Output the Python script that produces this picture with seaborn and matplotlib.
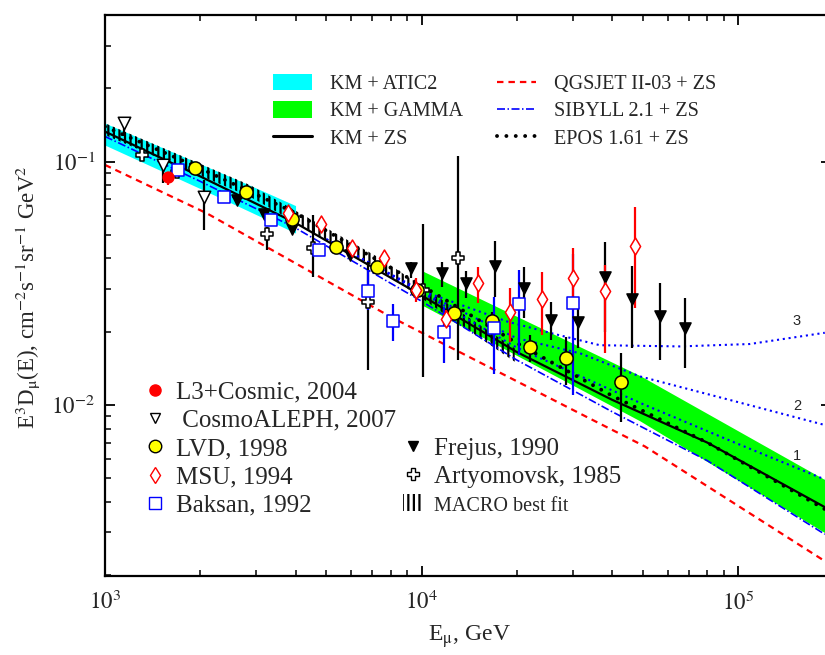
import numpy as np
import matplotlib
matplotlib.use('Agg')
import matplotlib.pyplot as plt
import seaborn as sns
from matplotlib.lines import Line2D
from matplotlib.patches import Patch
from matplotlib.ticker import LogLocator, FixedLocator, NullFormatter, FuncFormatter

# ---------------- theory curves ----------------
km_zs_x = [1000, 2000, 4000, 10000, 20000, 40000, 80000, 188000]
km_zs_y = [0.133, 0.087, 0.056, 0.0282, 0.0165, 0.0105, 0.0070, 0.0038]

qgs_x = [1000, 2100, 7950, 34800, 50800, 188000]
qgs_y = [0.097, 0.0613, 0.0231, 0.00866, 0.00675, 0.00228]

sib_x = [1000, 2000, 4000, 10000, 20000, 40000, 80000, 188000]
sib_y = [0.127, 0.083, 0.0534, 0.0267, 0.0153, 0.00938, 0.0059, 0.00294]

epos_x = [1000, 2000, 4000, 10000, 20000, 40000, 80000, 188000]
epos_y = [0.1394, 0.0939, 0.0615, 0.0310, 0.01797, 0.01091, 0.0070, 0.00373]

prompt1_x = [5000, 10000, 20000, 49000, 96400, 188000]
prompt1_y = [0.048, 0.0290, 0.0172, 0.0102, 0.00705, 0.00494]
prompt2_x = [5000, 10000, 20000, 31700, 49000, 96400, 188000]
prompt2_y = [0.048, 0.0292, 0.0188, 0.0163, 0.0131, 0.0104, 0.00827]
prompt3_x = [5000, 10000, 18700, 25800, 36600, 65600, 109000, 188000]
prompt3_y = [0.048, 0.0295, 0.0220, 0.0197, 0.0176, 0.0174, 0.0178, 0.0198]

atic_x = [1000, 2000, 2870, 4000]
atic_hi = [0.144, 0.098, 0.080, 0.066]
atic_lo = [0.117, 0.0775, 0.0623, 0.0509]

gamma_x = [10000, 49000, 196700]
gamma_hi = [0.0357, 0.0132, 0.00477]
gamma_lo = [0.0258, 0.0086, 0.00288]

macro_x = [1000, 2870, 7390, 19700]
macro_hi = [0.144, 0.0802, 0.0401, 0.0171]
macro_lo = [0.1287, 0.0718, 0.0359, 0.01505]

# ---------------- experimental data ----------------
l3_x = [1585]
l3_y = [0.0868]
l3_lo = [0.0802]
l3_hi = [0.0910]

aleph_x = [1148, 1528, 2055]
aleph_y = [0.144, 0.0969, 0.0714]
aleph_lo = [0.127, 0.0815, 0.0524]
aleph_hi = [0.153, 0.1016, 0.0841]

lvd_x = [1924, 2789, 3907, 5370, 7218, 9656, 12695, 16740, 22020, 28620, 42690]
lvd_y = [0.0940, 0.0748, 0.0581, 0.0447, 0.0370, 0.0297, 0.02395, 0.0222, 0.01727, 0.0156, 0.0124]
lvd_lo = [0.090, 0.071, 0.0555, 0.0425, 0.0352, 0.0282, 0.0228, 0.0198, 0.01507, 0.01208, 0.00854]
lvd_hi = [0.098, 0.078, 0.0610, 0.0470, 0.0390, 0.0313, 0.0252, 0.0241, 0.0194, 0.0191, 0.0163]

msu_x = [3794, 4803, 6019, 7612, 9607, 11950, 15120, 19030, 23980, 30170, 38080, 47270]
msu_y = [0.0614, 0.0554, 0.0441, 0.0401, 0.0297, 0.0225, 0.0316, 0.0241, 0.0273, 0.0333, 0.0295, 0.0452]
msu_lo = [0.0600, 0.0540, 0.0430, 0.0390, 0.0265, 0.0191, 0.0262, 0.0182, 0.0194, 0.0246, 0.0163, 0.0250]
msu_hi = [0.0630, 0.0568, 0.0452, 0.0412, 0.0333, 0.0246, 0.0370, 0.0302, 0.0353, 0.0441, 0.0376, 0.0653]

baksan_x = [1704, 2382, 3338, 4734, 6790, 8144, 11780, 16950, 20370, 30040]
baksan_y = [0.0924, 0.0718, 0.0574, 0.0432, 0.0294, 0.0222, 0.0200, 0.0208, 0.0260, 0.0263]
baksan_lo = [0.089, 0.069, 0.0555, 0.0418, 0.0246, 0.0184, 0.0149, 0.0134, 0.01605, 0.0110]
baksan_hi = [0.0955, 0.0745, 0.0595, 0.0447, 0.0359, 0.0260, 0.0253, 0.0279, 0.0359, 0.0418]

frejus_x = [2613, 3180, 3898, 5944, 9286, 11580, 13790, 17070, 21080, 25590, 31160, 37990, 46340, 56700, 68000]
frejus_y = [0.0696, 0.0610, 0.0528, 0.0414, 0.0365, 0.0350, 0.0318, 0.0374, 0.0302, 0.0224, 0.0220, 0.0337, 0.0272, 0.0231, 0.0207]
frejus_lo = [0.0680, 0.0595, 0.0515, 0.0404, 0.0332, 0.0306, 0.0275, 0.0279, 0.0227, 0.0185, 0.0171, 0.0200, 0.0171, 0.0153, 0.01415]
frejus_hi = [0.0712, 0.0625, 0.0541, 0.0424, 0.0388, 0.0388, 0.0356, 0.0474, 0.0370, 0.0266, 0.0253, 0.0469, 0.0373, 0.0316, 0.0275]

arty_x = [1306, 1684, 3243, 4532, 6790, 10110, 13010]
arty_y = [0.1065, 0.0905, 0.0503, 0.0441, 0.0266, 0.0297, 0.0401]
arty_lo = [0.1035, 0.0880, 0.0434, 0.0337, 0.01392, 0.01303, 0.01531]
arty_hi = [0.1095, 0.0930, 0.0540, 0.0604, 0.0387, 0.0554, 0.1055]

curve_labels = ['1', '2', '3']
curve_label_x = [153600, 153600, 153600]
curve_label_y = [0.00617, 0.00991, 0.02215]

# ---------------- style ----------------
sns.set_theme(style='ticks')
plt.rcParams['font.family'] = ['Liberation Serif', 'DejaVu Serif']
plt.rcParams['mathtext.fontset'] = 'stix'
plt.rcParams['hatch.linewidth'] = 1.6
plt.rcParams['axes.linewidth'] = 1.6

CYAN = '#00FFFF'
GREEN = '#00FF00'
RED = '#FF0000'
BLUE = '#0000FF'
YELLOW = '#FFFF00'

fig = plt.figure(figsize=(8.25, 6.55), dpi=100)
ax = fig.add_axes([105 / 825, 1 - 576 / 655, 726 / 825, 561 / 655])
ax.set_xscale('log')
ax.set_yscale('log')
ax.set_xlim(1000, 196700)
ax.set_ylim(0.00198, 0.401)

# bands
ax.fill_between(atic_x, atic_lo, atic_hi, color=CYAN, lw=0, zorder=1)
ax.fill_between(gamma_x, gamma_lo, gamma_hi, color=GREEN, lw=0, zorder=1)
ax.fill_between(macro_x, macro_lo, macro_hi, facecolor='none', edgecolor='black',
                hatch='|||', lw=0, zorder=1.5)

ls_red = (0, (2.9, 2.25))
ls_dashdot = (0, (4.8, 1.5, 0.9, 1.5))
ls_epos = (0, (0.01, 2.4))
ls_blue_dot = (0, (1, 1.8))

for px, py in [(prompt1_x, prompt1_y), (prompt2_x, prompt2_y), (prompt3_x, prompt3_y)]:
    sns.lineplot(x=px, y=py, ax=ax, color=BLUE, lw=1.5, linestyle=ls_blue_dot,
                 estimator=None, sort=False, legend=False, zorder=2)
sns.lineplot(x=qgs_x, y=qgs_y, ax=ax, color=RED, lw=1.6, linestyle=ls_red,
             estimator=None, sort=False, legend=False, zorder=2)
sns.lineplot(x=sib_x, y=sib_y, ax=ax, color=BLUE, lw=1.2, linestyle=ls_dashdot,
             estimator=None, sort=False, legend=False, zorder=2)
sns.lineplot(x=km_zs_x, y=km_zs_y, ax=ax, color='black', lw=1.6,
             estimator=None, sort=False, legend=False, zorder=2.2)
sns.lineplot(x=epos_x, y=epos_y, ax=ax, color='black', lw=2.8, linestyle=ls_epos,
             dash_capstyle='round', estimator=None, sort=False, legend=False, zorder=2.3)

# data with error bars
def errs(y, lo, hi):
    y = np.asarray(y); lo = np.asarray(lo); hi = np.asarray(hi)
    return [y - lo, hi - y]

datasets = [
    (frejus_x, frejus_y, frejus_lo, frejus_hi, 'black', dict(marker='v', color='black', edgecolor='black', s=64)),
    (arty_x, arty_y, arty_lo, arty_hi, 'black', dict(marker='P', color='white', edgecolor='black', s=80)),
    (aleph_x, aleph_y, aleph_lo, aleph_hi, 'black', dict(marker='v', color='white', edgecolor='black', s=80)),
    (lvd_x, lvd_y, lvd_lo, lvd_hi, 'black', dict(marker='o', color=YELLOW, edgecolor='black', s=90)),
    (baksan_x, baksan_y, baksan_lo, baksan_hi, BLUE, dict(marker='s', color='white', edgecolor=BLUE, s=75)),
    (msu_x, msu_y, msu_lo, msu_hi, RED, dict(marker='d', color='white', edgecolor=RED, s=75)),
    (l3_x, l3_y, l3_lo, l3_hi, RED, dict(marker='o', color=RED, edgecolor=RED, s=60)),
]
for i, (dx, dy, dlo, dhi, ecol, mk) in enumerate(datasets):
    ax.errorbar(dx, dy, yerr=errs(dy, dlo, dhi), fmt='none', ecolor=ecol,
                elinewidth=1.6, capsize=0, zorder=3 + 0.1 * i)
for i, (dx, dy, dlo, dhi, ecol, mk) in enumerate(datasets):
    sns.scatterplot(x=dx, y=dy, ax=ax, linewidth=1.1, zorder=4 + 0.1 * i, legend=False, **mk)

for t, tx, ty in zip(curve_labels, curve_label_x, curve_label_y):
    ax.text(tx, ty, t, ha='center', va='center', fontsize=10.5,
            family=['Liberation Sans', 'DejaVu Sans'], zorder=6)

# axes formatting
fmt = FuncFormatter(lambda v, p: r'$10^{%d}$' % int(round(np.log10(v))))
ax.xaxis.set_major_locator(FixedLocator([1e3, 1e4, 1e5]))
ax.yaxis.set_major_locator(FixedLocator([1e-3, 1e-2, 1e-1]))
ax.xaxis.set_major_formatter(fmt)
ax.yaxis.set_major_formatter(fmt)
for a in (ax.xaxis, ax.yaxis):
    a.set_minor_locator(LogLocator(base=10, subs=np.arange(2, 10)))
    a.set_minor_formatter(NullFormatter())
ax.tick_params(which='both', direction='in', top=True, right=True, color='black')
ax.tick_params(which='major', length=7.5, width=1.3, labelsize=16.5)
ax.tick_params(axis='x', which='major', pad=11)
ax.tick_params(axis='y', which='major', pad=7)
ax.tick_params(which='minor', length=4, width=1.1)
for s in ax.spines.values():
    s.set_color('black')
    s.set_linewidth(1.6)
ax.grid(False)

fig.text(469 / 825, 1 - 637 / 655, r'E$_{\mathrm{\mu}}$, GeV', ha='center', va='center', fontsize=17)
fig.text(28 / 825, 1 - 297 / 655,
         r'E$^3$D$_{\mathrm{\mu}}$(E), cm$^{-2}$s$^{-1}$sr$^{-1}$ GeV$^2$',
         rotation=90, ha='center', va='center', fontsize=16.5)

# top legend
top_handles = [
    Patch(facecolor=CYAN, edgecolor='none', label='KM + ATIC2'),
    Patch(facecolor=GREEN, edgecolor='none', label='KM + GAMMA'),
    Line2D([], [], color='black', lw=2.2, label='KM + ZS'),
    Line2D([], [], color=RED, lw=1.6, linestyle=ls_red, label='QGSJET II-03 + ZS'),
    Line2D([], [], color=BLUE, lw=1.2, linestyle=ls_dashdot, label='SIBYLL 2.1 + ZS'),
    Line2D([], [], color='black', lw=2.8, linestyle=ls_epos, dash_capstyle='round', label='EPOS 1.61 + ZS'),
]
leg1 = ax.legend(handles=top_handles, ncol=2, loc='upper left', frameon=False,
                 bbox_to_anchor=(273 / 825, 1 - 74 / 655), bbox_transform=fig.transFigure,
                 fontsize=14.5, handlelength=1.95, handleheight=0.85, handletextpad=0.9,
                 columnspacing=1.65, labelspacing=0.37, borderpad=0, borderaxespad=0)
ax.add_artist(leg1)

mk_handles = [
    Line2D([], [], ls='none', marker='o', markersize=8, color=RED, label='L3+Cosmic, 2004'),
    Line2D([], [], ls='none', marker='v', markersize=7.5, markerfacecolor='white', markeredgecolor='black', label=' CosmoALEPH, 2007'),
    Line2D([], [], ls='none', marker='o', markersize=9, markerfacecolor=YELLOW, markeredgecolor='black', label='LVD, 1998'),
    Line2D([], [], ls='none', marker='d', markersize=8, markerfacecolor='white', markeredgecolor=RED, label='MSU, 1994'),
    Line2D([], [], ls='none', marker='s', markersize=8, markerfacecolor='white', markeredgecolor=BLUE, label='Baksan, 1992'),
]
leg2 = ax.legend(handles=mk_handles, loc='upper left', frameon=False,
                 bbox_to_anchor=(145 / 825, 1 - 381 / 655), bbox_transform=fig.transFigure,
                 fontsize=18, handlelength=0.8, handletextpad=0.45, labelspacing=0.23,
                 borderpad=0, borderaxespad=0)
ax.add_artist(leg2)

mk_handles2 = [
    Line2D([], [], ls='none', marker='v', markersize=7.5, color='black', label='Frejus, 1990'),
    Line2D([], [], ls='none', marker='P', markersize=8, markerfacecolor='white', markeredgecolor='black', label='Artyomovsk, 1985'),
    Patch(facecolor='none', edgecolor='black', hatch='|||', lw=0, label='MACRO best fit'),
]
leg3 = ax.legend(handles=mk_handles2, loc='upper left', frameon=False,
                 bbox_to_anchor=(403 / 825, 1 - 437 / 655), bbox_transform=fig.transFigure,
                 fontsize=18, handlelength=0.8, handletextpad=0.45, labelspacing=0.23,
                 borderpad=0, borderaxespad=0)
leg3.get_texts()[2].set_fontsize(14.5)

fig.savefig('out.png', dpi=100)
